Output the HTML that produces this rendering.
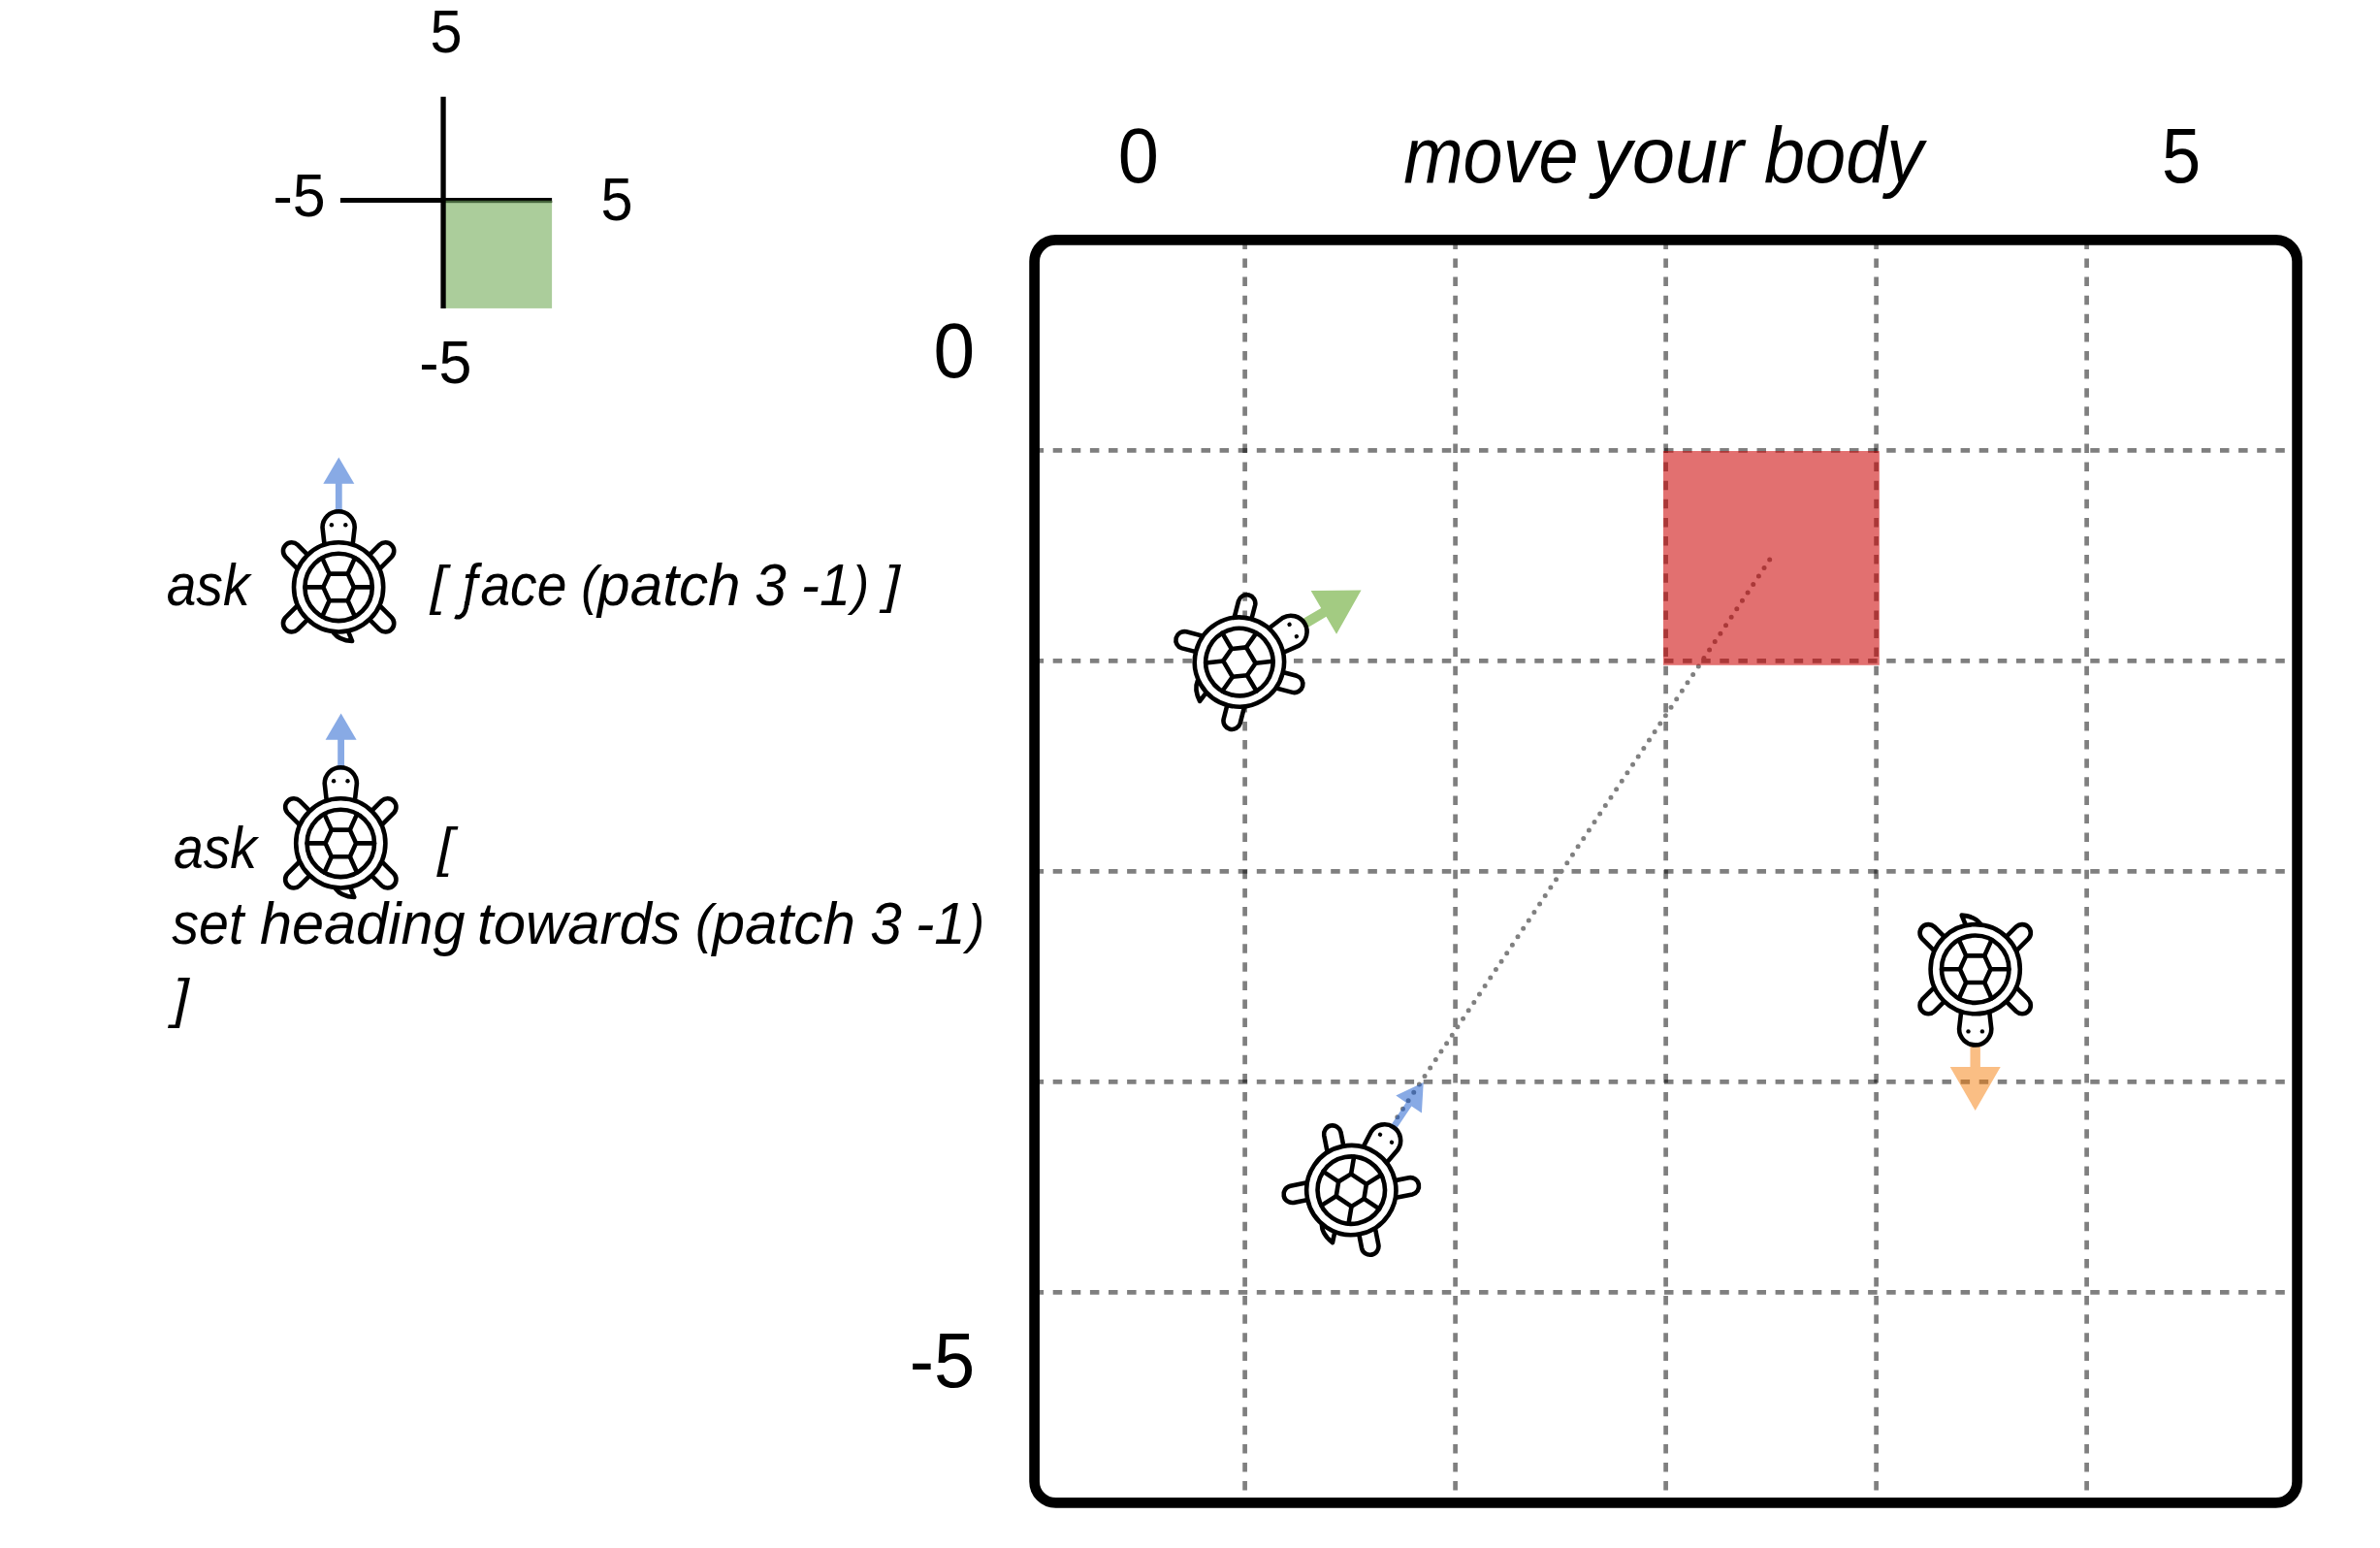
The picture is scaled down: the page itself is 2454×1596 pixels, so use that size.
<!DOCTYPE html>
<html>
<head>
<meta charset="utf-8">
<title>move your body</title>
<style>
  html, body { margin: 0; padding: 0; background: #ffffff; }
  body { width: 2454px; height: 1596px; font-family: "Liberation Sans", sans-serif; }
  svg { display: block; width: 2454px; height: 1596px; }
  text { font-family: "Liberation Sans", sans-serif; fill: #000; }
  .it { font-style: italic; }
</style>
</head>
<body>
<svg width="2454" height="1596" viewBox="0 0 2454 1596">
  <defs>
    <!-- turtle, centred on shell centre, heading up -->
    <g id="leg">
      <path d="M33.5 -10.1 L54.72 -31.28 A8.8 8.8 0 0 0 42.28 -43.72 L21.07 -22.5"/>
    </g>
    <g id="turtle" fill="none" stroke="#000" stroke-width="4.6" stroke-linecap="round" stroke-linejoin="round">
      <use href="#leg"/>
      <use href="#leg" transform="scale(-1,1)"/>
      <use href="#leg" transform="scale(1,-1)"/>
      <use href="#leg" transform="scale(-1,-1)"/>
      <path d="M-14.5 -43.5 L-16.6 -61.6 A16.6 16.6 0 0 1 16.6 -61.6 L14.5 -43.5"/>
      <path d="M-5.2 46.9 C-1.5 52 5 55 14 55.6 L9.9 45.5"/>
      <circle r="46.1" fill="#fff"/>
      <circle r="34.7"/>
      <polygon points="-15.8,0 -9.5,-13.8 9.5,-13.8 15.8,0 9.5,13.8 -9.5,13.8"/>
      <path d="M-15.8 0 H-34.7 M15.8 0 H34.7 M9.5 -13.8 L16.9 -30.3 M-9.5 -13.8 L-16.9 -30.3 M9.5 13.8 L16.9 30.3 M-9.5 13.8 L-16.9 30.3"/>
      <circle cx="-7.2" cy="-64.2" r="2.2" fill="#000" stroke="none"/>
      <circle cx="7.2" cy="-64.2" r="2.2" fill="#000" stroke="none"/>
    </g>
    <!-- small arrow (heading up from turtle centre) -->
    <path id="arrS" d="M-3.4 -75.6 V-106.6 H-16 L0 -133.8 L16 -106.6 H3.4 V-75.6 Z"/>
    <!-- big arrow -->
    <path id="arrB" d="M-5.2 -78 V-100.9 H-26 L0 -145.8 L26 -100.9 H5.2 V-78 Z"/>
  </defs>

  <!-- ===== small axes figure ===== -->
  <rect x="457" y="206.8" width="112.1" height="111.1" fill="#abcd9b"/>
  <rect x="457" y="206.8" width="112.1" height="2.3" fill="#44633a"/>
  <line x1="350.9" y1="206.5" x2="569.1" y2="206.5" stroke="#000" stroke-width="5.2" />
  <rect x="457" y="206.8" width="112.1" height="2.3" fill="#44633a"/>
  <line x1="457.05" y1="99.8" x2="457.05" y2="317.9" stroke="#000" stroke-width="5.3"/>
  <!-- TEXT-BEGIN -->
  <text font-size="62" transform="translate(443.61 53.70) scale(0.9573 1.0070)">5</text>
  <text font-size="62" transform="translate(281.50 222.99) scale(0.9809 1.0116)">-5</text>
  <text font-size="62" transform="translate(619.61 227.19) scale(0.9573 1.0186)">5</text>
  <text font-size="62" transform="translate(432.20 394.80) scale(0.9829 1.0093)">-5</text>
  <text font-size="80" transform="translate(1152.82 188.25) scale(0.9474 1.0018)">0</text>
  <text font-size="80" transform="translate(2228.97 188.25) scale(0.9026 1.0027)">5</text>
  <text font-size="80" transform="translate(962.49 389.25) scale(0.9579 1.0000)">0</text>
  <text font-size="80" transform="translate(937.68 1429.66) scale(0.9494 0.9919)">-5</text>
  <text class="it" font-size="61" transform="translate(171.64 624.00) scale(0.9044 1.0000)">ask</text>
  <text class="it" font-size="61" transform="translate(443.86 621.62) scale(0.9609 0.9000)">[</text>
  <text class="it" font-size="61" transform="translate(476.89 624.00) scale(0.9037 1.0000)">f<tspan dx="3.58">ace</tspan></text>
  <text class="it" font-size="61" transform="translate(599.15 621.74) scale(0.8533 0.9004)">(</text>
  <text class="it" font-size="61" transform="translate(616.08 624.00) scale(0.9892 1.0000)">patch</text>
  <text class="it" font-size="61" transform="translate(778.26 624.00) scale(0.9594 1.0000)">3</text>
  <text class="it" font-size="61" transform="translate(825.82 624.00) scale(0.9464 1.0000)">-1</text>
  <text class="it" font-size="61" transform="translate(878.83 621.67) scale(0.8578 0.8987)">)</text>
  <text class="it" font-size="61" transform="translate(911.45 621.49) scale(0.9696 0.8947)">]</text>
  <text class="it" font-size="61" transform="translate(178.94 895.00) scale(0.9065 1.0000)">ask</text>
  <text class="it" font-size="61" transform="translate(451.37 892.42) scale(0.9652 0.9000)">[</text>
  <text class="it" font-size="61" transform="translate(177.37 972.90) scale(0.9093 1.0000)">set</text>
  <text class="it" font-size="61" transform="translate(267.93 972.90) scale(0.9749 1.0000)">heading</text>
  <text class="it" font-size="61" transform="translate(492.10 972.90) scale(0.9809 1.0000)">towards</text>
  <text class="it" font-size="61" transform="translate(716.89 970.64) scale(0.8756 0.9004)">(</text>
  <text class="it" font-size="61" transform="translate(734.48 972.90) scale(0.9885 1.0000)">patch</text>
  <text class="it" font-size="61" transform="translate(897.16 972.90) scale(0.9594 1.0000)">3</text>
  <text class="it" font-size="61" transform="translate(944.00 972.90) scale(0.9530 1.0000)">-1</text>
  <text class="it" font-size="61" transform="translate(997.81 970.57) scale(0.8533 0.8987)">)</text>
  <text class="it" font-size="61" transform="translate(178.06 1047.57) scale(0.9913 0.8965)">]</text>
  <text class="it" font-size="81" transform="translate(1447.16 188.20) scale(0.9110 1.0000)">move</text>
  <text class="it" font-size="81" transform="translate(1642.82 188.20) scale(0.9833 1.0000)">your</text>
  <text class="it" font-size="81" transform="translate(1818.93 188.20) scale(0.9352 1.0000)">body</text>
  <path d="M481.7 620.5 L480.5 626.9 Q479 633.5 474.5 635.8 Q472 636.8 469.1 635.6" fill="none" stroke="#000" stroke-width="4.6"/>
  <!-- TEXT-END -->

  <!-- ===== left: code lines ===== -->
  <use href="#arrS" fill="#1155cc" fill-opacity="0.5" transform="translate(349.3 605.4)"/>
  <use href="#turtle" transform="translate(349.1 605.4)"/>

  <use href="#arrS" fill="#1155cc" fill-opacity="0.5" transform="translate(351.6 869.4)"/>
  <use href="#turtle" transform="translate(351.3 869.4)"/>

  <!-- ===== grid ===== -->


  <g stroke="#000" stroke-opacity="0.5" stroke-width="4.7" stroke-dasharray="9.5 9.6" fill="none">
    <path d="M1283.6 247.4 V1549.4 M1500.6 247.4 V1549.4 M1717.6 247.4 V1549.4 M1934.6 247.4 V1549.4 M2151.6 247.4 V1549.4"/>
    <path d="M1066.6 464.4 H2368.6 M1066.6 681.4 H2368.6 M1066.6 898.4 H2368.6 M1066.6 1115.4 H2368.6 M1066.6 1332.4 H2368.6"/>
  </g>
  <!-- dotted heading line -->
  <line x1="1440.8" y1="1151.7" x2="1824.7" y2="577.1" stroke="#808080" stroke-width="5" stroke-linecap="round" stroke-dasharray="0 10.162"/>
  <!-- arrows (semi-transparent, over grid) -->
  <use href="#arrB" fill="#a3cb82" transform="translate(1277.9 682.6) rotate(59.5)"/>
  <use href="#arrS" fill="#1155cc" fill-opacity="0.5" transform="translate(1393.3 1227.1) rotate(33.8)"/>
  <use href="#arrB" fill="#f57d0a" fill-opacity="0.5" transform="translate(2036.7 999.2) rotate(180)"/>
  <!-- red patch -->
  <rect x="1715" y="465" width="222.8" height="220.8" fill="#cc0000" fill-opacity="0.56"/>

  <rect x="1066.6" y="247.4" width="1302" height="1302" rx="22" ry="22" fill="none" stroke="#000" stroke-width="10.7"/>

  <use href="#turtle" transform="translate(1277.9 682.6) rotate(59.5)"/>
  <use href="#turtle" transform="translate(1393.3 1227.1) rotate(33.8)"/>
  <use href="#turtle" transform="translate(2036.7 999.2) rotate(180)"/>
</svg>
</body>
</html>
